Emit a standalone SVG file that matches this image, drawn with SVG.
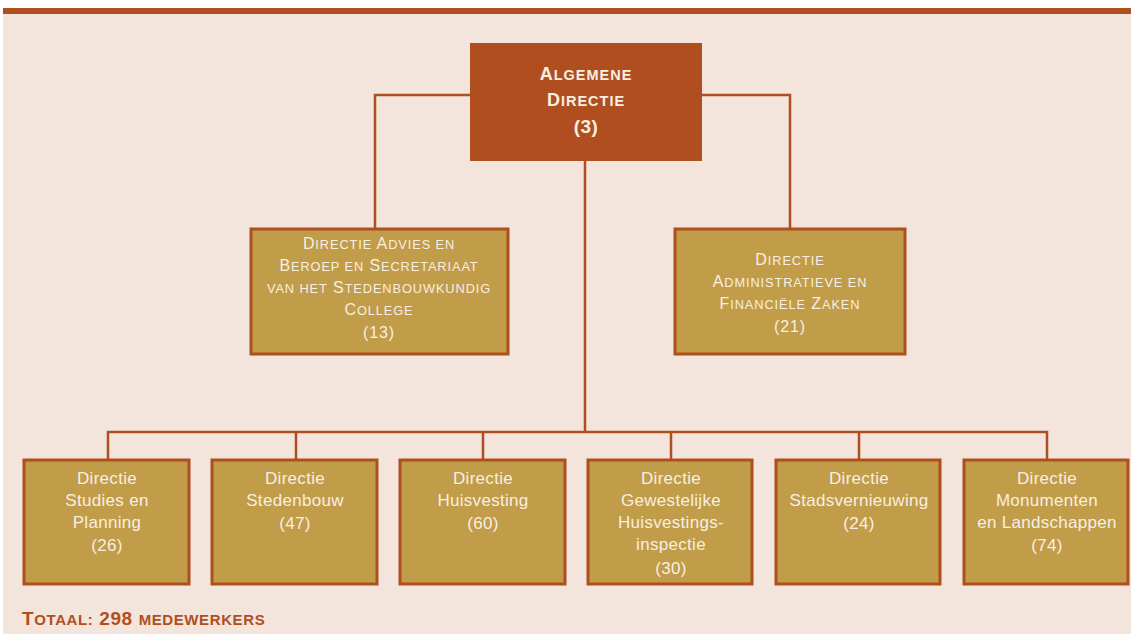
<svg xmlns="http://www.w3.org/2000/svg" width="1131" height="634" viewBox="0 0 1131 634">
<style>
.bg{fill:#f3e5dc}
.bar{fill:#b04e1f}
.top{fill:#b04e1f}
.box{fill:#c19c49;stroke:#b04e1f;stroke-width:3}
.conn{fill:none;stroke:#b04e1f;stroke-width:2.5}
text{font-family:"Liberation Sans","DejaVu Sans",sans-serif;text-anchor:middle;fill:#f8efe2}
.t1{font-size:18px;font-weight:bold;letter-spacing:1px}
.t1 .s{font-size:14.5px}
.t2{font-size:16px;letter-spacing:0.9px}
.t2 .s{font-size:12.8px}
.t3{font-size:17px;letter-spacing:0.3px}
.foot{font-size:19px;font-weight:bold;text-anchor:start;fill:#b04e1f;letter-spacing:0.6px}
.foot .s{font-size:15px}
</style>
<rect x="0" y="0" width="1131" height="634" fill="#ffffff"/>
<rect class="bg" x="3" y="14" width="1128" height="620"/>
<rect class="bar" x="3" y="8" width="1128" height="6"/>
<g id="connectors">
<path class="conn" d="M470 95 H375 V228"/>
<path class="conn" d="M702 95 H790 V228"/>
<path class="conn" d="M585 161 V432"/>
<path class="conn" d="M108 459 V432 H1047 V459"/>
<path class="conn" d="M296 432 V459 M483 432 V459 M671 432 V459 M859 432 V459"/>
</g>
<g id="algemene-directie">
<rect class="top" x="470" y="43" width="232" height="118"/>
<text class="t1" x="586" y="80">A<tspan class="s">LGEMENE</tspan></text>
<text class="t1" x="586" y="106">D<tspan class="s">IRECTIE</tspan></text>
<text class="t1" x="586" y="133" style="font-size:19px;letter-spacing:0.5px">(3)</text>
</g>
<g id="directie-advies">
<rect class="box" x="251" y="229" width="257" height="125"/>
<text class="t2" x="379" y="249">D<tspan class="s">IRECTIE</tspan> A<tspan class="s">DVIES EN</tspan></text>
<text class="t2" x="379" y="271">B<tspan class="s">EROEP EN</tspan> S<tspan class="s">ECRETARIAAT</tspan></text>
<text class="t2" x="379" y="293"><tspan class="s">VAN HET</tspan> S<tspan class="s">TEDENBOUWKUNDIG</tspan></text>
<text class="t2" x="379" y="315">C<tspan class="s">OLLEGE</tspan></text>
<text class="t2" x="379" y="338">(13)</text>
</g>
<g id="directie-administratieve">
<rect class="box" x="675" y="229" width="230" height="125"/>
<text class="t2" x="790" y="265">D<tspan class="s">IRECTIE</tspan></text>
<text class="t2" x="790" y="287">A<tspan class="s">DMINISTRATIEVE EN</tspan></text>
<text class="t2" x="790" y="309">F<tspan class="s">INANCIËLE</tspan> Z<tspan class="s">AKEN</tspan></text>
<text class="t2" x="790" y="332">(21)</text>
</g>
<g id="studies-planning">
<rect class="box" x="24" y="460" width="165" height="124"/>
<text class="t3" x="107" y="484">Directie</text>
<text class="t3" x="107" y="506">Studies en</text>
<text class="t3" x="107" y="528">Planning</text>
<text class="t3" x="107" y="551">(26)</text>
</g>
<g id="stedenbouw">
<rect class="box" x="212" y="460" width="165" height="124"/>
<text class="t3" x="295" y="484">Directie</text>
<text class="t3" x="295" y="506">Stedenbouw</text>
<text class="t3" x="295" y="529">(47)</text>
</g>
<g id="huisvesting">
<rect class="box" x="400" y="460" width="165" height="124"/>
<text class="t3" x="483" y="484">Directie</text>
<text class="t3" x="483" y="506">Huisvesting</text>
<text class="t3" x="483" y="529">(60)</text>
</g>
<g id="gewestelijke">
<rect class="box" x="588" y="460" width="164" height="124"/>
<text class="t3" x="671" y="484">Directie</text>
<text class="t3" x="671" y="506">Gewestelijke</text>
<text class="t3" x="671" y="528">Huisvestings-</text>
<text class="t3" x="671" y="550">inspectie</text>
<text class="t3" x="671" y="574">(30)</text>
</g>
<g id="stadsvernieuwing">
<rect class="box" x="776" y="460" width="164" height="124"/>
<text class="t3" x="859" y="484">Directie</text>
<text class="t3" x="859" y="506">Stadsvernieuwing</text>
<text class="t3" x="859" y="529">(24)</text>
</g>
<g id="monumenten">
<rect class="box" x="964" y="460" width="164" height="124"/>
<text class="t3" x="1047" y="484">Directie</text>
<text class="t3" x="1047" y="506">Monumenten</text>
<text class="t3" x="1047" y="528">en Landschappen</text>
<text class="t3" x="1047" y="551">(74)</text>
</g>
<text class="foot" x="22" y="625">T<tspan class="s">OTAAL:</tspan> 298 <tspan class="s">MEDEWERKERS</tspan></text>
</svg>
